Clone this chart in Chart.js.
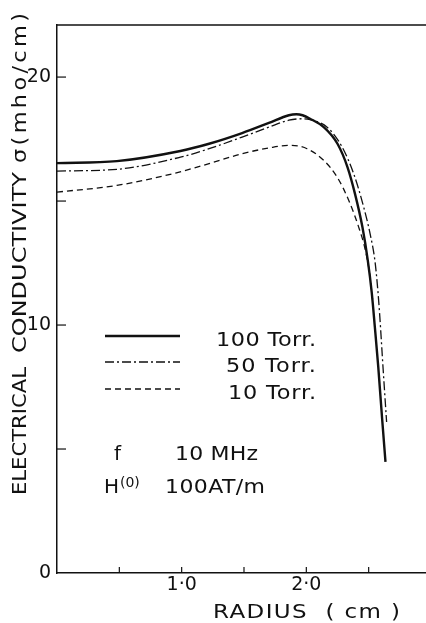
<!DOCTYPE html>
<html>
<head>
<meta charset="utf-8">
<title>Electrical conductivity vs radius</title>
<script src="https://cdn.jsdelivr.net/npm/chart.js@4.4.0/dist/chart.umd.min.js"></script>
<style>
  html, body { margin: 0; padding: 0; background: #fff; }
  #wrap { width: 426px; height: 623px; }
</style>
</head>
<body>
<div id="wrap"><canvas id="chart" width="426" height="623"></canvas></div>
<script>
// radius (cm) / conductivity (mho/cm) for each pressure
const radius100 = [0, 0.48, 0.99, 1.22, 1.485, 1.70, 1.86, 1.92, 1.97, 2.03, 2.14, 2.25, 2.33, 2.39, 2.45, 2.493, 2.525, 2.55, 2.577, 2.607, 2.635];
const sigma100  = [16.53, 16.61, 17.02, 17.31, 17.74, 18.15, 18.46, 18.50, 18.46, 18.32, 17.98, 17.31, 16.37, 15.30, 13.95, 12.61, 11.3, 9.9, 8.31, 6.29, 4.48];

const radius50 = [0, 0.48, 0.99, 1.22, 1.485, 1.70, 1.86, 1.97, 2.03, 2.167, 2.287, 2.38, 2.46, 2.515, 2.55, 2.572, 2.59, 2.615, 2.644];
const sigma50  = [16.21, 16.28, 16.77, 17.11, 17.58, 17.98, 18.26, 18.32, 18.28, 17.98, 17.18, 16.10, 14.76, 13.6, 12.6, 11.5, 10.3, 8.31, 6.09];

const radius10 = [0, 0.48, 0.95, 1.22, 1.485, 1.70, 1.87, 2.006, 2.14, 2.247, 2.34, 2.42, 2.474, 2.51, 2.532];
const sigma10  = [15.36, 15.63, 16.13, 16.51, 16.91, 17.14, 17.25, 17.11, 16.64, 15.97, 15.03, 13.95, 13.01, 12.0, 11.0];

const seriesLabels = ['100 Torr.', '50 Torr.', '10 Torr.'];

const xTickValues = [0.5, 1.0, 1.5, 2.0, 2.5];
const xTickLabels = ['', '1·0', '', '2·0', ''];
const yTickValues = [0, 5, 10, 15, 20];
const yTickLabels = ['0', '', '10', '', '20'];

const INK = '#111';
const FONT = "'DejaVu Sans', sans-serif";

function pairs(xs, ys) {
  return xs.map((x, i) => ({ x: x, y: ys[i] }));
}

// widen a string to a target length: stretch glyphs a little, then space them
function fitText(ctx, text, x, y, target, maxScale) {
  const w = ctx.measureText(text).width;
  const sx = Math.min(maxScale || 1.2, target / w);
  const rest = target - w * sx;
  const gap = rest > 0 ? rest / Math.max(1, text.length - 1) / sx : 0;
  ctx.save();
  ctx.translate(x, y);
  ctx.scale(sx, 1);
  ctx.letterSpacing = gap.toFixed(2) + 'px';
  ctx.fillText(text, 0, 0);
  ctx.restore();
}

const paperDecor = {
  id: 'paperDecor',
  afterDraw(chart) {
    const ctx = chart.ctx;
    const area = chart.chartArea;
    const xs = chart.scales.x;
    const ys = chart.scales.y;
    ctx.save();
    ctx.strokeStyle = INK;
    ctx.fillStyle = INK;

    // top frame line
    ctx.lineWidth = 1.5;
    ctx.beginPath();
    ctx.moveTo(area.left, area.top);
    ctx.lineTo(area.right, area.top);
    ctx.stroke();

    // inward tick marks
    ctx.lineWidth = 1.2;
    xTickValues.forEach(v => {
      const px = xs.getPixelForValue(v);
      ctx.beginPath();
      ctx.moveTo(px, area.bottom);
      ctx.lineTo(px, area.bottom - 6);
      ctx.stroke();
    });
    yTickValues.filter(v => v > 0).forEach(v => {
      const py = ys.getPixelForValue(v);
      ctx.beginPath();
      ctx.moveTo(area.left, py);
      ctx.lineTo(area.left + 9, py);
      ctx.stroke();
    });

    ctx.textAlign = 'left';

    // y axis title, rotated
    ctx.save();
    ctx.translate(21, 0);
    ctx.rotate(-Math.PI / 2);
    ctx.font = '20px ' + FONT;
    ctx.textBaseline = 'middle';
    fitText(ctx, 'ELECTRICAL', -495, 0, 128);
    fitText(ctx, 'CONDUCTIVITY', -353, 0, 181);
    fitText(ctx, 'σ(mho/cm)', -163, 0, 150, 1.12);
    ctx.restore();

    // x axis title
    ctx.font = '20px ' + FONT;
    ctx.textBaseline = 'alphabetic';
    fitText(ctx, 'RADIUS  ( cm )', 213, 618, 187, 1.15);

    // legend key drawn from the datasets
    const rows = [336, 362, 389];
    const textStart = [216, 226, 228];
    chart.data.datasets.forEach((ds, i) => {
      ctx.save();
      ctx.lineWidth = ds.borderWidth;
      ctx.setLineDash(ds.borderDash || []);
      ctx.beginPath();
      ctx.moveTo(105, rows[i]);
      ctx.lineTo(180, rows[i]);
      ctx.stroke();
      ctx.restore();
      ctx.font = '20px ' + FONT;
      ctx.textBaseline = 'alphabetic';
      fitText(ctx, ds.label, textStart[i], rows[i] + 10, 316 - textStart[i], 1.12);
    });

    // run conditions
    ctx.textBaseline = 'alphabetic';
    ctx.font = '20px ' + FONT;
    ctx.fillText('f', 114, 460);
    fitText(ctx, '10 MHz', 175, 460, 83, 1.1);
    ctx.fillText('H', 104, 493);
    ctx.font = '14px ' + FONT;
    ctx.fillText('(0)', 120, 487);
    ctx.font = '20px ' + FONT;
    fitText(ctx, '100AT/m', 165, 493, 100, 1.1);

    ctx.restore();
  }
};

new Chart(document.getElementById('chart'), {
  type: 'scatter',
  data: {
    datasets: [
      {
        label: seriesLabels[0],
        data: pairs(radius100, sigma100),
        borderColor: INK,
        borderWidth: 2.4,
        borderDash: [],
        showLine: true,
        pointRadius: 0,
        cubicInterpolationMode: 'monotone'
      },
      {
        label: seriesLabels[1],
        data: pairs(radius50, sigma50),
        borderColor: INK,
        borderWidth: 1.3,
        borderDash: [9, 3, 2, 3],
        showLine: true,
        pointRadius: 0,
        cubicInterpolationMode: 'monotone'
      },
      {
        label: seriesLabels[2],
        data: pairs(radius10, sigma10),
        borderColor: INK,
        borderWidth: 1.3,
        borderDash: [6, 4],
        showLine: true,
        pointRadius: 0,
        cubicInterpolationMode: 'monotone'
      }
    ]
  },
  options: {
    responsive: false,
    animation: false,
    devicePixelRatio: 1,
    layout: { padding: { top: 25, left: 0, right: 0, bottom: 0 } },
    plugins: {
      legend: { display: false },
      tooltip: { enabled: false }
    },
    scales: {
      x: {
        type: 'linear',
        min: 0,
        max: 2.96,
        afterFit: s => { s.height = 50; },
        afterBuildTicks: s => { s.ticks = xTickValues.map(v => ({ value: v })); },
        grid: { display: false, drawTicks: false },
        border: { display: true, color: INK, width: 1.5 },
        ticks: {
          padding: 1,
          color: INK,
          font: { family: FONT, size: 19 },
          maxRotation: 0,
          autoSkip: false,
          callback: v => {
            const i = xTickValues.indexOf(v);
            return i >= 0 ? xTickLabels[i] : '';
          }
        }
      },
      y: {
        type: 'linear',
        min: 0,
        max: 22.1,
        afterFit: s => { s.width = 57; },
        afterBuildTicks: s => { s.ticks = yTickValues.map(v => ({ value: v })); },
        grid: { display: false, drawTicks: false },
        border: { display: true, color: INK, width: 1.5 },
        ticks: {
          padding: 6,
          color: INK,
          font: { family: FONT, size: 19 },
          autoSkip: false,
          callback: v => {
            const i = yTickValues.indexOf(v);
            return i >= 0 ? yTickLabels[i] : '';
          }
        }
      }
    }
  },
  plugins: [paperDecor]
});
</script>
</body>
</html>
